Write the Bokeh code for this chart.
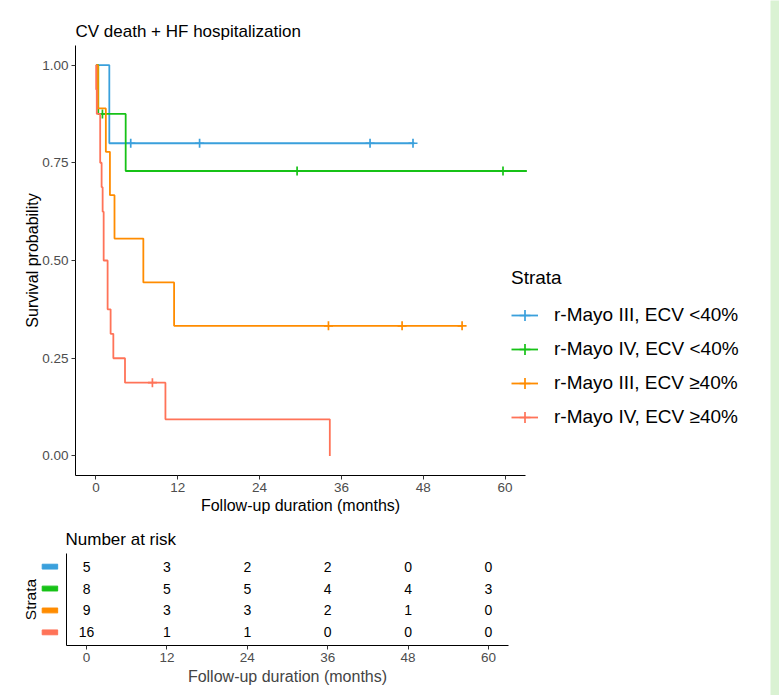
import math
from bokeh.plotting import figure
from bokeh.models import (Range1d, FixedTicker, NumeralTickFormatter, Legend,
                          LegendItem, ColumnDataSource, Title)
from bokeh.layouts import row, column
from bokeh.core.properties import value
from bokeh.embed import file_html
from bokeh.resources import INLINE

FONT = "Liberation Sans"

# ---------------- data ----------------
strata = ["r-Mayo III, ECV <40%", "r-Mayo IV, ECV <40%",
          "r-Mayo III, ECV \u226540%", "r-Mayo IV, ECV \u226540%"]
colors = ["#3AA0DC", "#17C217", "#FF8C00", "#FF7358"]

# Kaplan-Meier step curves (time in months, survival from that time on)
blue_t = [0, 1.96, 46.7]
blue_s = [1.0, 0.80, 0.80]
blue_ct = [5.1, 15.2, 40.2, 46.5]
blue_cs = [0.80, 0.80, 0.80, 0.80]

green_t = [0, 0.34, 4.36, 63.2]
green_s = [1.0, 0.875, 0.729, 0.729]
green_ct = [0.95, 29.5, 59.7]
green_cs = [0.875, 0.729, 0.729]

orange_t = [0, 0.3, 1.45, 2.05, 2.72, 6.95, 11.46, 53.8]
orange_s = [1.0, 0.889, 0.778, 0.667, 0.556, 0.444, 0.333, 0.333]
orange_ct = [34.1, 44.9, 53.7]
orange_cs = [0.333, 0.333, 0.333]

red_t = [0, 0.03, 0.12, 0.62, 0.83, 0.98, 1.13, 1.71, 2.15, 2.55, 4.26, 10.19, 34.3]
red_s = [1.0, 0.9375, 0.875, 0.75, 0.6875, 0.625, 0.5, 0.375, 0.3125, 0.25, 0.1875, 0.09375, 0.0]
red_ct = [8.28]
red_cs = [0.1875]

x_ticks = [0, 12, 24, 36, 48, 60]
y_ticks = [0, 0.25, 0.5, 0.75, 1.0]

# Number at risk
risk_times = [0, 12, 24, 36, 48, 60]
risk_blue = [5, 3, 2, 2, 0, 0]
risk_green = [8, 5, 5, 4, 4, 3]
risk_orange = [9, 3, 3, 2, 1, 0]
risk_red = [16, 1, 1, 0, 0, 0]
risk_rows = [4, 3, 2, 1]

curves = [(blue_t, blue_s, blue_ct, blue_cs), (green_t, green_s, green_ct, green_cs),
          (orange_t, orange_s, orange_ct, orange_cs), (red_t, red_s, red_ct, red_cs)]
risks = [risk_blue, risk_green, risk_orange, risk_red]

# ---------------- main KM plot ----------------
W, LB, RB = 770, 75, 10
AX_PX = 450.0                               # pixel span of the -3..63 axis
x_end = -3 + 66 * (W - LB - RB) / AX_PX
p = figure(width=W, height=520, output_backend="svg", toolbar_location=None,
           x_range=Range1d(-3, x_end), y_range=Range1d(-0.05, 1.05),
           min_border_left=LB, min_border_right=RB, min_border_top=45, min_border_bottom=45)
p.outline_line_color = None
p.grid.visible = False
p.background_fill_color = "white"
p.border_fill_color = "white"

p.title.text = "CV death + HF hospitalization"
p.title.align = "left"
p.title.offset = 0
p.title.standoff = 9
p.title.text_font = FONT
p.title.text_font_size = "17px"
p.title.text_font_style = "normal"
p.title.text_color = "black"

items = []
for (t, s, ct, cs), c, name in zip(curves, colors, strata):
    lr = p.step(t, s, mode="after", line_color=c, line_width=1.8)
    sr = p.scatter(ct, cs, marker="cross", size=9, line_color=c, line_width=1.7)
    items.append(LegendItem(label=name, renderers=[lr, sr]))

for ax in (p.xaxis[0], p.yaxis[0]):
    ax.axis_line_color = "black"
    ax.axis_line_width = 1
    ax.major_tick_line_color = "#333333"
    ax.major_tick_in = 0
    ax.major_tick_out = 4
    ax.minor_tick_line_color = None
    ax.major_label_text_font = FONT
    ax.major_label_text_font_size = "13.5px"
    ax.major_label_text_color = "#4D4D4D"
    ax.major_label_standoff = 3
    ax.axis_label_text_font = FONT
    ax.axis_label_text_font_size = "16px"
    ax.axis_label_text_font_style = "normal"
    ax.axis_label_text_color = "black"

p.xaxis.bounds = (-3, 63)
p.yaxis.axis_label_standoff = -2
p.xaxis.ticker = FixedTicker(ticks=x_ticks)
p.yaxis.ticker = FixedTicker(ticks=y_ticks)
p.yaxis.formatter = NumeralTickFormatter(format="0.00")
p.yaxis.axis_label = "Survival probability"

# x-axis title centred under the -3..63 axis span (frame is wider to host the legend)
xlab = "Follow-up duration (months)"
xlab_w = 12.448 * 16                        # Arial/Liberation advance width of the label
p.add_layout(Title(text=xlab, align="left", offset=AX_PX / 2 - xlab_w / 2, standoff=0,
                   text_font=FONT, text_font_size="16px", text_font_style="normal",
                   text_color="black"), "below")

legend = Legend(items=items, location=(436, 41), title="Strata",
                title_text_font=FONT, title_text_font_size="19px", title_text_font_style="normal",
                title_text_color="black", title_standoff=9,
                label_text_font=FONT, label_text_font_size="19px", label_text_color="black",
                glyph_width=27, glyph_height=34, label_height=34, spacing=0,
                padding=0, margin=0, label_standoff=16,
                border_line_color=None, background_fill_alpha=0)
p.add_layout(legend)

# ---------------- risk table ----------------
yr = Range1d(0.4, 4.6)
t = figure(width=708, height=175, output_backend="svg", toolbar_location=None,
           x_range=Range1d(-3, 63), y_range=yr,
           min_border_left=4, min_border_right=262, min_border_top=33, min_border_bottom=50)
t.outline_line_color = None
t.grid.visible = False
t.title.text = "Number at risk"
t.title.align = "left"
t.title.offset = -1
t.title.standoff = 10
t.title.text_font = FONT
t.title.text_font_size = "17px"
t.title.text_font_style = "normal"
t.title.text_color = "black"

for cnt, rw in zip(risks, risk_rows):
    src = ColumnDataSource(dict(x=risk_times, y=[rw] * len(risk_times), txt=[str(v) for v in cnt]))
    t.text(x="x", y="y", text="txt", source=src, text_align="center", text_baseline="middle",
           text_font=value(FONT), text_font_size=value("14px"), text_color="black")

xa = t.xaxis[0]
xa.ticker = FixedTicker(ticks=x_ticks)
xa.axis_line_color = "black"
xa.major_tick_line_color = "#333333"
xa.major_tick_in = 0
xa.major_tick_out = 4
xa.minor_tick_line_color = None
xa.major_label_text_font = FONT
xa.major_label_text_font_size = "13.5px"
xa.major_label_text_color = "#4D4D4D"
xa.major_label_standoff = 3
xa.axis_label = xlab
xa.axis_label_text_font = FONT
xa.axis_label_text_font_size = "16px"
xa.axis_label_text_font_style = "normal"
xa.axis_label_standoff = 3

ya = t.yaxis[0]
ya.ticker = FixedTicker(ticks=[])
ya.axis_line_color = "black"
ya.major_tick_out = 0
ya.major_tick_in = 0
ya.major_label_standoff = 0
ya.minor_tick_line_color = None

# colored strata keys left of the table
k = figure(width=62, height=175, output_backend="svg", toolbar_location=None,
           x_range=Range1d(0, 18), y_range=yr, x_axis_location=None,
           min_border_left=40, min_border_right=4, min_border_top=33, min_border_bottom=50)
k.outline_line_color = None
k.grid.visible = False
k.hbar(y=risk_rows, left=1.7, right=17.3, height=0.22, color=colors)
ka = k.yaxis[0]
ka.ticker = FixedTicker(ticks=[])
ka.axis_line_color = None
ka.major_tick_out = 0
ka.major_tick_in = 0
ka.major_label_standoff = 0
ka.minor_tick_line_color = None
ka.axis_label = "Strata"
ka.axis_label_text_font = FONT
ka.axis_label_text_font_size = "15.5px"
ka.axis_label_text_font_style = "normal"
ka.axis_label_text_color = "black"
ka.axis_label_standoff = 2

# page edge strip
g = figure(width=9, height=695, output_backend="svg", toolbar_location=None,
           x_axis_location=None, y_axis_location=None, min_border=0)
g.outline_line_color = None
g.grid.visible = False
g.background_fill_color = "#DAF2D3"
g.border_fill_color = "#DAF2D3"

layout = row(column(p, row(k, t)), g)
open("out.html", "w").write(file_html(layout, INLINE))
